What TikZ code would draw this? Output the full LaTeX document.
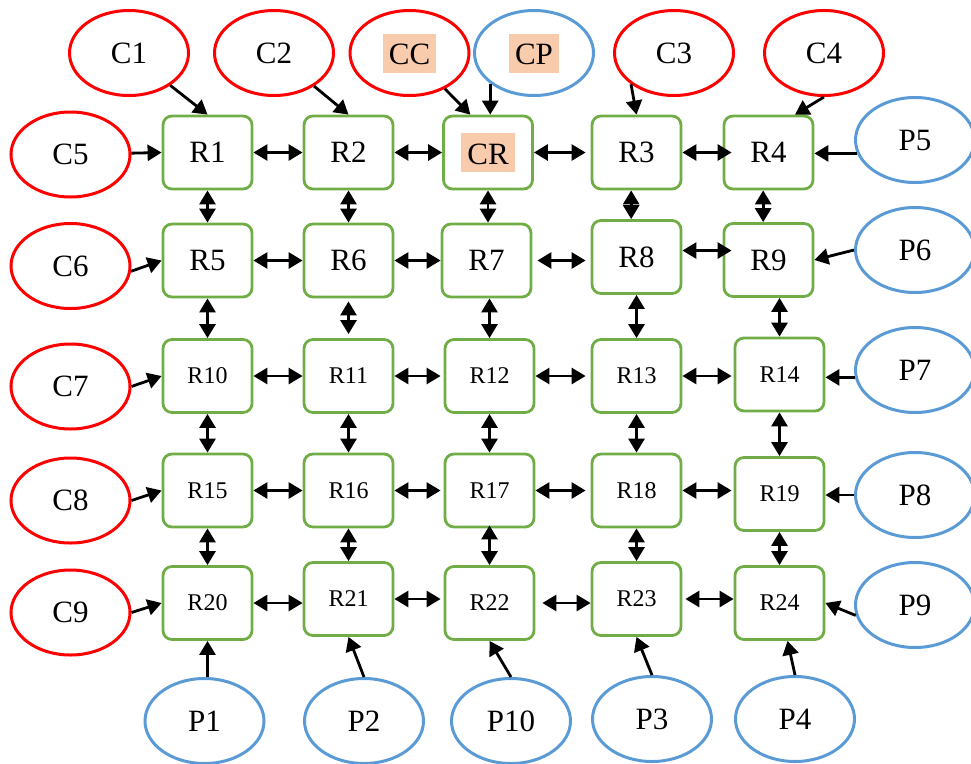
\documentclass[tikz,border=0pt]{standalone}
\usepackage{fontspec}
\setmainfont{Liberation Serif}
\usetikzlibrary{arrows.meta,shapes.geometric,calc}
\definecolor{cred}{HTML}{FF0000}
\definecolor{cblue}{HTML}{5B9BD5}
\definecolor{cgreen}{HTML}{70AD47}
\definecolor{hl}{HTML}{F8CBAD}
\newcommand{\hlbox}[1]{{\setlength{\fboxsep}{0pt}\colorbox{hl}{\rule[-8pt]{0pt}{39pt}\hspace{6pt}#1\hspace{6pt}}}}
\begin{document}
\begin{tikzpicture}[x=1pt,y=-1pt,
  rbox/.style={draw=cgreen, line width=2.8pt, rounded corners=9pt, minimum width=89pt, minimum height=73pt, inner sep=0pt, font=\fontsize{31}{36}\selectfont},
  rsmall/.style={rbox, font=\fontsize{24}{28}\selectfont},
  cell/.style={ellipse, draw=cred, line width=3pt, minimum width=119pt, minimum height=85pt, inner sep=0pt, font=\fontsize{31}{36}\selectfont},
  pell/.style={cell, draw=cblue},
  arr/.style={line width=2.8pt, -{Triangle[length=14pt,width=16pt]}},
  dbl/.style={line width=2.8pt, {Triangle[length=14pt,width=16pt]}-{Triangle[length=14pt,width=16pt]}}]
\useasboundingbox (0,0) rectangle (971,763);
% router boxes
\node[rbox] (R1) at (207.5,152.5) {R1};
\node[rbox] (R2) at (348.5,152.5) {R2};
\node[rbox] (CR) at (488,152.5) {\hlbox{CR}};
\node[rbox] (R3) at (636.5,152.5) {R3};
\node[rbox] (R4) at (768.5,152.5) {R4};
\node[rbox] (R5) at (207.5,260.5) {R5};
\node[rbox] (R6) at (348.5,260.5) {R6};
\node[rbox] (R7) at (486.5,260.5) {R7};
\node[rbox] (R8) at (636.5,257) {R8};
\node[rbox] (R9) at (768.5,260) {R9};
\node[rsmall] (R10) at (207.5,376) {R10};
\node[rsmall] (R11) at (348.5,376) {R11};
\node[rsmall] (R12) at (489.5,376) {R12};
\node[rsmall] (R13) at (636.5,376) {R13};
\node[rsmall] (R14) at (779.5,374.5) {R14};
\node[rsmall] (R15) at (207.5,490.5) {R15};
\node[rsmall] (R16) at (348.5,490.5) {R16};
\node[rsmall] (R17) at (489.5,490.5) {R17};
\node[rsmall] (R18) at (636.5,490.5) {R18};
\node[rsmall] (R19) at (779.5,494) {R19};
\node[rsmall] (R20) at (207.5,603) {R20};
\node[rsmall] (R21) at (348.5,599) {R21};
\node[rsmall] (R22) at (489.5,603) {R22};
\node[rsmall] (R23) at (636.5,599) {R23};
\node[rsmall] (R24) at (779.5,603) {R24};
% ellipses
\node[cell] (C1) at (129,53) {C1};
\node[cell] (C2) at (274,53) {C2};
\node[cell] (CC) at (409.5,53) {\hlbox{CC}};
\node[pell] (CP) at (534,53) {\hlbox{CP}};
\node[cell] (C3) at (674,53) {C3};
\node[cell] (C4) at (824,53) {C4};
\node[cell] (C5) at (70.5,154.5) {C5};
\node[cell] (C6) at (70.5,266) {C6};
\node[cell] (C7) at (70.5,386.5) {C7};
\node[cell] (C8) at (70.5,500.5) {C8};
\node[cell] (C9) at (70.5,612.5) {C9};
\node[pell] (P5) at (915,140) {P5};
\node[pell] (P6) at (915,250) {P6};
\node[pell] (P7) at (915,370) {P7};
\node[pell] (P8) at (915,495) {P8};
\node[pell] (P9) at (915,605) {P9};
\node[pell] (P1) at (204.5,721) {P1};
\node[pell] (P2) at (364,721) {P2};
\node[pell] (P10) at (511,721) {P10};
\node[pell] (P3) at (652,719) {P3};
\node[pell] (P4) at (795,719) {P4};
% single arrows
\draw[arr] (C1) -- (R1.north);
\draw[arr] (C2) -- (R2.north);
\draw[arr] (CC) -- (CR.115);
\draw[arr] (CP.215) -- (CP.215 |- CR.north);
\draw[arr] (C3.216) -- (R3.north);
\draw[arr] (C4.south) -- (R4.55);
\draw[arr] (C5) -- (R1.west);
\draw[arr] (C6.-5) -- (R5.west);
\draw[arr] (C7.east) -- (R10.west);
\draw[arr] (C8.east) -- (R15.west);
\draw[arr] (C9.east) -- (R20.west);
\draw[arr] (P5.193) -- (P5.193 -| R4.east);
\draw[arr] (P6.west) -- (R9.east);
\draw[arr] (P7.187) -- (P7.187 -| R14.east);
\draw[arr] (P8.west) -- (P8.west -| R19.east);
\draw[arr] (P9.190) -- (R24.east);
\draw[arr] (P1.north -| R20.south) -- (R20.south);
\draw[arr] (P2.north) -- (R21.south);
\draw[arr] (P10.north) -- (R22.south);
\draw[arr] (P3.north) -- (R23.south);
\draw[arr] (P4.north) -- (R24.-78);
% horizontal double arrows
\draw[dbl] (R1.east) -- (R1.east -| R2.west);
\draw[dbl] (R2.east) -- (R2.east -| CR.west);
\draw[dbl, shorten >=5pt] (CR.east) -- (CR.east -| R3.west);
\draw[dbl, shorten >=-9pt] (R3.east) -- (R3.east -| R4.west);
\draw[dbl] (R5.east) -- (R5.east -| R6.west);
\draw[dbl] (R6.east) -- (R6.east -| R7.west);
\draw[dbl, shorten <=5pt, shorten >=5pt] (R7.east) -- (R7.east -| R8.west);
\draw[dbl, shorten >=-9pt] (R8.8) -- (R8.8 -| R9.west);
\draw[dbl] (R10.east) -- (R10.east -| R11.west);
\draw[dbl, shorten >=3pt] (R11.east) -- (R11.east -| R12.west);
\draw[dbl, shorten >=5pt] (R12.east) -- (R12.east -| R13.west);
\draw[dbl, shorten >=2pt] (R13.east) -- (R13.east -| R14.west);
\draw[dbl] (R15.east) -- (R15.east -| R16.west);
\draw[dbl, shorten >=3pt] (R16.east) -- (R16.east -| R17.west);
\draw[dbl, shorten >=5pt] (R17.east) -- (R17.east -| R18.west);
\draw[dbl, shorten >=2pt] (R18.east) -- (R18.east -| R19.west);
\draw[dbl] (R20.east) -- (R20.east -| R21.west);
\draw[dbl, shorten >=3pt] (R21.east) -- (R21.east -| R22.west);
\draw[dbl, shorten <=7pt] (R22.east) -- (R22.east -| R23.west);
\draw[dbl, shorten <=3pt] (R23.east) -- (R23.east -| R24.west);
% vertical double arrows
\draw[dbl] (R1.south) -- (R1.south |- R5.north);
\draw[dbl] (R5.south) -- (R5.south |- R10.north);
\draw[dbl] (R10.south) -- (R10.south |- R15.north);
\draw[dbl] (R15.south) -- (R15.south |- R20.north);
\draw[dbl] (R2.south) -- (R2.south |- R6.north);
\draw[dbl, shorten <=3pt, shorten >=4pt] (R6.south) -- (R6.south |- R11.north);
\draw[dbl] (R11.south) -- (R11.south |- R16.north);
\draw[dbl] (R16.south) -- (R16.south |- R21.north);
\draw[dbl] (CR.south) -- (CR.south |- R7.north);
\draw[dbl] (R7.south -| R12.north) -- (R12.north);
\draw[dbl] (R12.south) -- (R12.south |- R17.north);
\draw[dbl, shorten <=-3pt] (R17.south) -- (R17.south |- R22.north);
\draw[dbl] (R3.262) -- (R3.262 |- R8.north);
\draw[dbl] (R8.south) -- (R8.south |- R13.north);
\draw[dbl] (R13.south) -- (R13.south |- R18.north);
\draw[dbl] (R18.south) -- (R18.south |- R23.north);
\draw[dbl] (R4.262) -- (R4.262 |- R9.north);
\draw[dbl] (R9.south -| R14.north) -- (R14.north);
\draw[dbl] (R14.south) -- (R14.south |- R19.north);
\draw[dbl] (R19.south) -- (R19.south |- R24.north);
\end{tikzpicture}
\end{document}
